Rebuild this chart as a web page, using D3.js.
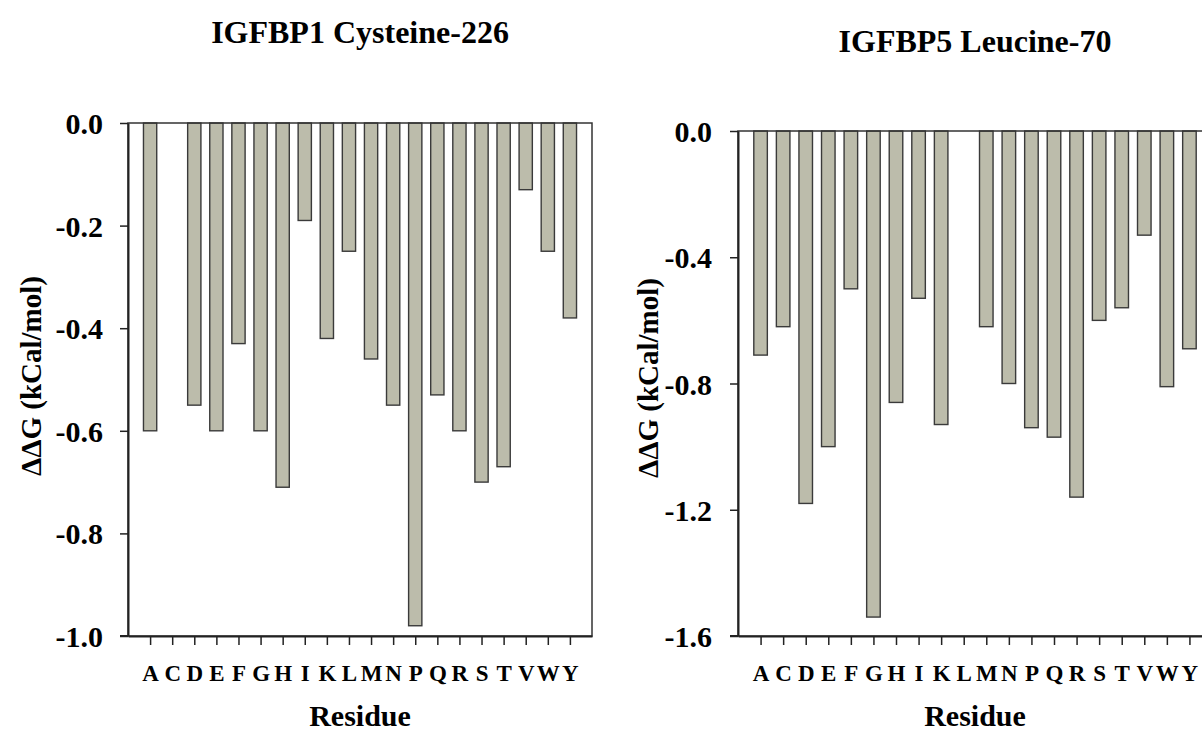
<!DOCTYPE html>
<html>
<head>
<meta charset="utf-8">
<script src="https://cdn.jsdelivr.net/npm/d3@7"></script>
<style>
  body { margin: 0; background: #fff; }
</style>
</head>
<body>
<div id="chart"></div>
<script>
// residues along x (same for both panels)
const residues = ['A', 'C', 'D', 'E', 'F', 'G', 'H', 'I', 'K', 'L', 'M', 'N', 'P', 'Q', 'R', 'S', 'T', 'V', 'W', 'Y'];

// ddG values, null = no bar (wild type residue)
const igfbp1Values = [-0.60, null, -0.55, -0.60, -0.43, -0.60, -0.71, -0.19, -0.42, -0.25,
                      -0.46, -0.55, -0.98, -0.53, -0.60, -0.70, -0.67, -0.13, -0.25, -0.38];
const igfbp5Values = [-0.71, -0.62, -1.18, -1.00, -0.50, -1.54, -0.86, -0.53, -0.93, null,
                      -0.62, -0.80, -0.94, -0.97, -1.16, -0.60, -0.56, -0.33, -0.81, -0.69];

const igfbp1Ticks = [0, -0.2, -0.4, -0.6, -0.8, -1.0];
const igfbp5Ticks = [0, -0.4, -0.8, -1.2, -1.6];

const width = 1202;
const height = 731;
const serif = '"Liberation Serif", "Times New Roman", Times, "DejaVu Serif", serif';

const svg = d3.select("#chart").append("svg")
    .attr("width", width)
    .attr("height", height);

function drawPanel(opts) {
    const x = d3.scalePoint()
        .domain(residues)
        .range([opts.left, opts.right])
        .padding(1);

    const y = d3.scaleLinear()
        .domain([0, opts.min])
        .range([opts.top, opts.bottom]);

    const g = svg.append("g");
    const barWidth = x.step() * 0.6;

    const data = residues.map((r, i) => ({ r: r, v: opts.values[i] }))
        .filter(d => d.v !== null);

    g.selectAll(".bar")
        .data(data)
        .join("rect")
        .attr("class", "bar")
        .attr("x", d => x(d.r) - barWidth / 2)
        .attr("y", y(0))
        .attr("width", barWidth)
        .attr("height", d => y(d.v) - y(0))
        .attr("fill", "#bcbcab")
        .attr("stroke", "#3a3a3a")
        .attr("stroke-width", 1.4);

    // plot frame (top and right sides)
    g.append("rect")
        .attr("x", opts.left)
        .attr("y", opts.top)
        .attr("width", opts.right - opts.left)
        .attr("height", opts.bottom - opts.top)
        .attr("fill", "none")
        .attr("stroke", "#333")
        .attr("stroke-width", 1.5);

    const yAxis = g.append("g")
        .attr("transform", `translate(${opts.left},0)`)
        .call(d3.axisLeft(y)
            .tickValues(opts.ticks)
            .tickFormat(d => d.toFixed(1))
            .tickSize(8)
            .tickSizeOuter(0)
            .tickPadding(opts.yPad));
    yAxis.selectAll("text").style("font-size", "30px").attr("dy", "0.35em");

    const xAxis = g.append("g")
        .attr("transform", `translate(0,${opts.bottom})`)
        .call(d3.axisBottom(x)
            .tickSize(9)
            .tickSizeOuter(0)
            .tickPadding(20));
    xAxis.selectAll("text").style("font-size", "23px").attr("dy", "0.71em");

    [yAxis, xAxis].forEach(a => {
        a.attr("font-family", null);
        a.select(".domain").attr("stroke", "#222").attr("stroke-width", 2);
        a.selectAll(".tick line").attr("stroke", "#222").attr("stroke-width", 1.5);
    });
    // x axis line also runs under the first y tick
    xAxis.append("line")
        .attr("x1", opts.left - 8).attr("x2", opts.left)
        .attr("stroke", "#222").attr("stroke-width", 2);

    const cx = (opts.left + opts.right) / 2;

    svg.append("text")
        .attr("x", cx)
        .attr("y", opts.titleY)
        .attr("text-anchor", "middle")
        .style("font-size", "32px")
        .text(opts.title);

    svg.append("text")
        .attr("x", cx)
        .attr("y", 726)
        .attr("text-anchor", "middle")
        .style("font-size", "30px")
        .text("Residue");

    svg.append("text")
        .attr("transform", `translate(${opts.yTitleX},${opts.yTitleY}) rotate(-90)`)
        .attr("text-anchor", "middle")
        .attr("dy", "0.35em")
        .style("font-size", "29px")
        .text("ΔΔG (kCal/mol)");
}

drawPanel({
    title: "IGFBP1 Cysteine-226",
    values: igfbp1Values,
    ticks: igfbp1Ticks,
    min: -1.0,
    left: 128, right: 592, top: 123, bottom: 636,
    yPad: 17,
    titleY: 43,
    yTitleX: 31, yTitleY: 376
});

drawPanel({
    title: "IGFBP5 Leucine-70",
    values: igfbp5Values,
    ticks: igfbp5Ticks,
    min: -1.6,
    left: 738, right: 1212, top: 131, bottom: 636,
    yPad: 18,
    titleY: 52,
    yTitleX: 648, yTitleY: 378
});

// all labels in bold Times-like serif
svg.selectAll("text")
    .style("font-family", serif)
    .style("font-weight", "bold")
    .attr("fill", "#000");
</script>
</body>
</html>
